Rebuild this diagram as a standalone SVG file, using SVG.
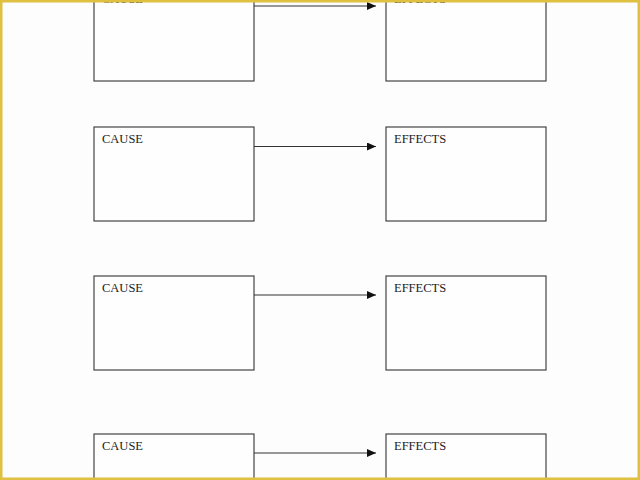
<svg xmlns="http://www.w3.org/2000/svg" width="640" height="480" viewBox="0 0 640 480">
<style>
.box{fill:#fefefe;stroke:#444;stroke-width:1.2}
.lbl{font-family:"Liberation Serif",serif;font-size:12.5px;fill:#222}
.con{stroke:#333;stroke-width:1;fill:none;marker-end:url(#ah)}
</style>
<defs>
<marker id="ah" markerWidth="10" markerHeight="8" refX="9" refY="4" orient="auto" markerUnits="userSpaceOnUse">
<path d="M0,0 L9,4 L0,8 Z" fill="#111"/>
</marker>
</defs>
<rect x="0" y="0" width="640" height="480" fill="#fdfdfd"/>
<g id="cause1"><rect class="box" x="94" y="-13" width="160" height="94"/><text class="lbl" x="102" y="3">CAUSE</text></g>
<g id="effects1"><rect class="box" x="386" y="-13" width="160" height="94"/><text class="lbl" x="394" y="3">EFFECTS</text></g>
<g id="cause2"><rect class="box" x="94" y="127" width="160" height="94"/><text class="lbl" x="102" y="143">CAUSE</text></g>
<g id="effects2"><rect class="box" x="386" y="127" width="160" height="94"/><text class="lbl" x="394" y="143">EFFECTS</text></g>
<g id="cause3"><rect class="box" x="94" y="276" width="160" height="94"/><text class="lbl" x="102" y="292">CAUSE</text></g>
<g id="effects3"><rect class="box" x="386" y="276" width="160" height="94"/><text class="lbl" x="394" y="292">EFFECTS</text></g>
<g id="cause4"><rect class="box" x="94" y="434" width="160" height="94"/><text class="lbl" x="102" y="450">CAUSE</text></g>
<g id="effects4"><rect class="box" x="386" y="434" width="160" height="94"/><text class="lbl" x="394" y="450">EFFECTS</text></g>
<g id="connectors">
<line class="con" x1="254" y1="6" x2="376" y2="6"/>
<line class="con" x1="254" y1="146.5" x2="376" y2="146.5"/>
<line class="con" x1="254" y1="295" x2="376" y2="295"/>
<line class="con" x1="254" y1="453" x2="376" y2="453"/>
</g>
<rect x="1.25" y="1.25" width="637.5" height="477.5" fill="none" stroke="#e0c040" stroke-width="2.5"/>
</svg>
